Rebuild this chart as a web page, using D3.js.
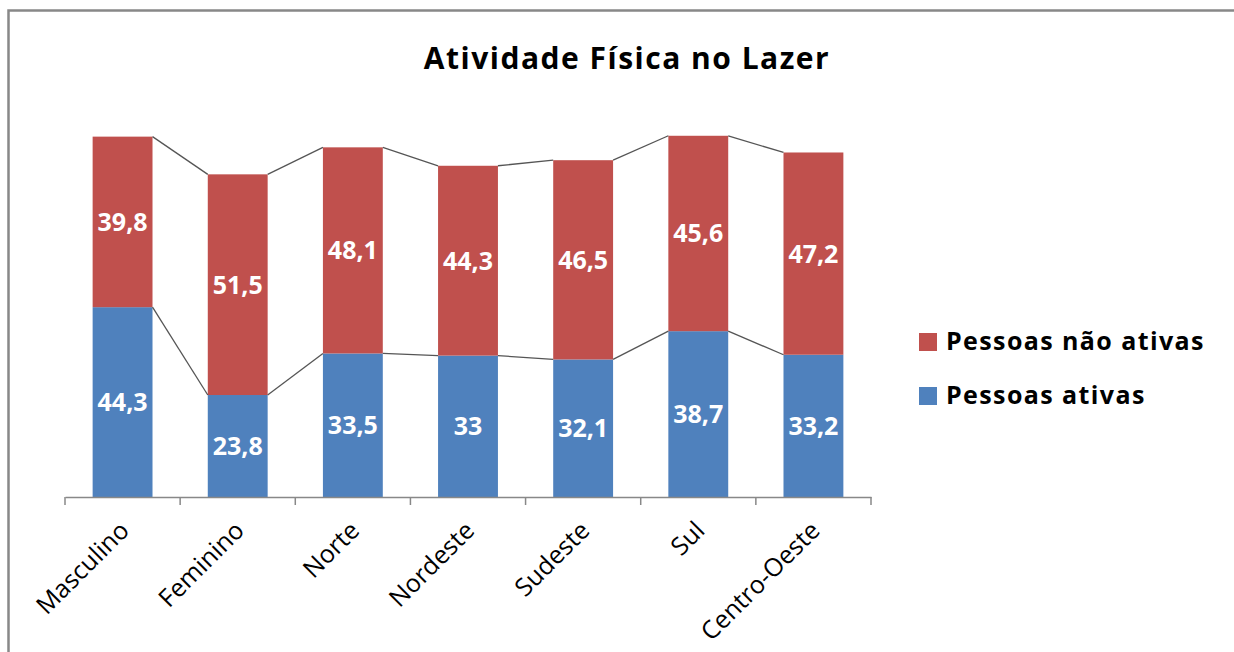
<!DOCTYPE html>
<html>
<head>
<meta charset="utf-8">
<script src="https://cdn.jsdelivr.net/npm/d3@7"></script>
<style>
  body { margin: 0; background: #fff; }
  svg { display: block; font-family: "Open Sans", sans-serif; }
</style>
</head>
<body>
<div class="container"></div>
<script>
var categories = ["Masculino", "Feminino", "Norte", "Nordeste", "Sudeste", "Sul", "Centro-Oeste"];
var ativas = [44.3, 23.8, 33.5, 33, 32.1, 38.7, 33.2];
var naoAtivas = [39.8, 51.5, 48.1, 44.3, 46.5, 45.6, 47.2];
var seriesNames = ["Pessoas ativas", "Pessoas não ativas"];
var colors = ["#4F81BD", "#C0504D"];

const WIDTH = 1234;
const HEIGHT = 652;
const X0 = 65, X1 = 871;
const BASE = 497;

var translate = function(x, y){
  return "translate(" + x + "," + y + ")";
};

var fmt = function(v){ return String(v).replace(".", ","); };

var keys = ["ativas", "naoAtivas"];
var rows = categories.map(function(c, i){
  return { cat: c, ativas: ativas[i], naoAtivas: naoAtivas[i] };
});
var stacked = d3.stack().keys(keys)(rows);

var xScale = d3.scaleBand().domain(categories).range([X0, X1]).paddingInner(0.48).paddingOuter(0.24);
var xTicks = d3.scaleBand().domain(categories).range([X0, X1]);
var yScale = d3.scaleLinear().domain([0, 90]).range([BASE, BASE - 90 * 4.285]);

var svg = d3.select(".container").append("svg")
  .attr("width", WIDTH)
  .attr("height", HEIGHT);

// frame
svg.append("rect")
  .attr("x", 8.5).attr("y", 10.5)
  .attr("width", WIDTH).attr("height", HEIGHT)
  .attr("fill", "none").attr("stroke", "#888").attr("stroke-width", 2.5);

// title
svg.append("text")
  .attr("x", 627).attr("y", 69)
  .attr("text-anchor", "middle")
  .attr("font-size", 30).attr("font-weight", "bold")
  .attr("letter-spacing", 1.5)
  .text("Atividade Física no Lazer");

// bars
var layers = svg.selectAll("g.layer").data(stacked).enter().append("g")
  .attr("class", "layer")
  .attr("fill", function(d, i){ return colors[i]; });

layers.selectAll("rect").data(function(d){ return d; }).enter().append("rect")
  .attr("x", function(d){ return xScale(d.data.cat); })
  .attr("width", xScale.bandwidth())
  .attr("y", function(d){ return yScale(d[1]); })
  .attr("height", function(d){ return yScale(d[0]) - yScale(d[1]); });

// series lines
stacked.forEach(function(layer){
  for (var i = 0; i < layer.length - 1; i++) {
    svg.append("line")
      .attr("x1", xScale(categories[i]) + xScale.bandwidth())
      .attr("y1", yScale(layer[i][1]))
      .attr("x2", xScale(categories[i + 1]))
      .attr("y2", yScale(layer[i + 1][1]))
      .attr("stroke", "#555").attr("stroke-width", 1.3);
  }
});

// data labels
layers.selectAll("text").data(function(d){
    return d.map(function(p){ return { p: p, key: d.key }; });
  }).enter().append("text")
  .attr("x", function(d){ return xScale(d.p.data.cat) + xScale.bandwidth() / 2; })
  .attr("y", function(d){ return (yScale(d.p[0]) + yScale(d.p[1])) / 2; })
  .attr("dy", "0.36em")
  .attr("text-anchor", "middle")
  .attr("fill", "#fff")
  .attr("font-size", 25)
  .attr("font-weight", "bold")
  .text(function(d){ return fmt(d.p.data[d.key]); });

// x axis
var xAxis = d3.axisBottom(xTicks).tickSize(0).tickFormat("");
var gx = svg.append("g").attr("transform", translate(0, BASE)).call(xAxis);
gx.select(".domain").attr("stroke", "#888").attr("stroke-width", 1.5);
var tickPos = categories.map(function(c){ return xTicks(c); }).concat([X1]);
gx.selectAll("line.tk").data(tickPos).enter().append("line")
  .attr("class", "tk")
  .attr("x1", function(d){ return d; }).attr("x2", function(d){ return d; })
  .attr("y1", 0).attr("y2", 8)
  .attr("stroke", "#888").attr("stroke-width", 1.5);

svg.selectAll("text.cat").data(categories).enter().append("text")
  .attr("class", "cat")
  .attr("transform", function(d){
    return translate(xScale(d) + xScale.bandwidth() / 2 + 8, BASE + 35) + " rotate(-45)";
  })
  .attr("text-anchor", "end")
  .attr("font-size", 25)
  .attr("fill", "#000")
  .text(function(d){ return d; });

// legend
var legend = svg.selectAll("g.leg").data([1, 0]).enter().append("g")
  .attr("class", "leg")
  .attr("transform", function(d, i){ return translate(919, 333 + i * 54); });
legend.append("rect")
  .attr("width", 18).attr("height", 18)
  .attr("fill", function(d){ return colors[d]; });
legend.append("text")
  .attr("x", 27).attr("y", 17)
  .attr("font-size", 25)
  .attr("font-weight", "bold")
  .attr("letter-spacing", 1.4)
  .text(function(d){ return seriesNames[d]; });
</script>
</body>
</html>
